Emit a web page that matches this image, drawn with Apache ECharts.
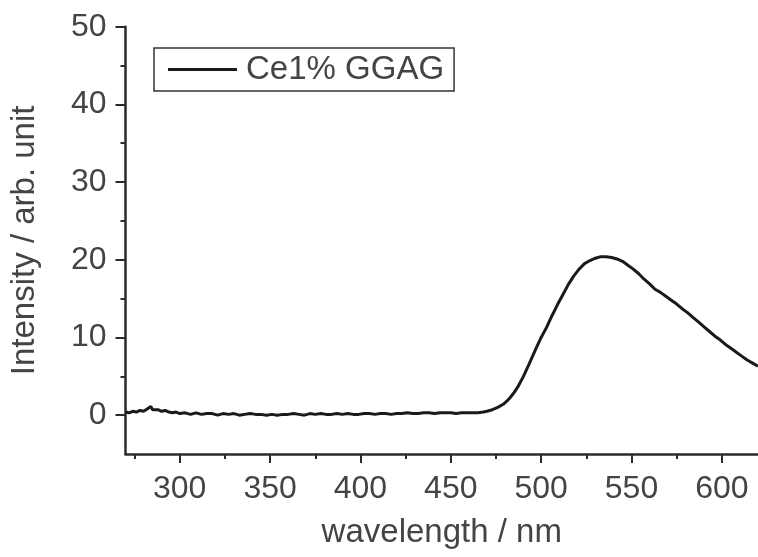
<!DOCTYPE html>
<html>
<head>
<meta charset="utf-8">
<script src="https://cdn.jsdelivr.net/npm/echarts@6/dist/echarts.min.js"></script>
<style>
html,body{margin:0;padding:0;background:#fff;}
#c{width:758px;height:557px;}
</style>
</head>
<body>
<div id="c"></div>
<script>
const seriesName = 'Ce1% GGAG';
const wavelength = [270,272,274,276,278,280,282,283,284,285,286,288,290,292,294,296,298,300,303,306,309,312,315,318,321,324,327,330,333,336,339,342,345,348,351,354,357,360,363,366,369,372,375,378,381,384,387,390,393,396,399,402,405,408,411,414,417,420,423,426,429,432,435,438,441,444,447,450,453,456,459,462,465,468,470,473,476,479,481,483,485,487,490,493,497,500,503,506,509,512,515,518,521,524,527,530,533,536,539,542,545,548,551,554,557,560,563,566,569,572,575,578,581,584,587,590,593,596,599,602,605,608,611,614,617,620];
const intensity = [0.4,0.3,0.5,0.4,0.6,0.5,0.8,0.6,1.1,0.7,0.6,0.7,0.5,0.6,0.4,0.3,0.4,0.2,0.3,0.1,0.3,0.1,0.2,0.2,0.0,0.2,0.1,0.2,0.0,0.1,0.2,0.1,0.1,0.0,0.1,0.0,0.1,0.1,0.2,0.1,0.0,0.2,0.1,0.2,0.1,0.1,0.2,0.1,0.2,0.1,0.1,0.2,0.2,0.1,0.2,0.2,0.1,0.2,0.2,0.3,0.2,0.2,0.3,0.3,0.2,0.3,0.3,0.3,0.2,0.3,0.3,0.3,0.3,0.4,0.5,0.7,1.0,1.4,1.8,2.3,2.9,3.6,4.9,6.4,8.5,10.0,11.3,12.8,14.2,15.5,16.8,17.9,18.8,19.5,19.9,20.2,20.4,20.4,20.3,20.1,19.8,19.3,18.8,18.2,17.5,16.9,16.2,15.8,15.3,14.8,14.3,13.7,13.2,12.6,12.0,11.4,10.8,10.2,9.7,9.1,8.6,8.1,7.6,7.1,6.7,6.3];
const xMajorTicks = [300,350,400,450,500,550,600];
const xMinorTicks = [275,325,375,425,475,525,575];
const yMajorTicks = [0,10,20,30,40,50];
const yMinorTicks = [5,15,25,35,45];

const FONT = 'Liberation Sans';
const TXT = '#444';
const AX = '#2a2a2a';

const chart = echarts.init(document.getElementById('c'), null, {renderer:'canvas'});
chart.setOption({
  animation:false,
  backgroundColor:'#fff',
  grid:{left:125.5, top:26.7, bottom:103, right:-6.8, containLabel:false},
  legend:{
    left:154, top:48,
    padding:[5,10,5,14],
    borderColor:'#333', borderWidth:1.5,
    itemWidth:69, itemHeight:3, icon:'rect',
    itemStyle:{color:'#1a1a1a'},
    textStyle:{fontFamily:FONT, fontSize:33, color:TXT, padding:[0,0,0,4]},
    data:[seriesName]
  },
  xAxis:[{
    type:'value', min:270, max:620,
    name:'wavelength / nm', nameLocation:'middle', nameGap:62,
    nameTextStyle:{fontFamily:FONT, fontSize:33, color:TXT},
    axisLine:{onZero:false, lineStyle:{color:AX, width:2.5}},
    axisTick:{show:true, length:9, lineStyle:{color:AX, width:2}, customValues:xMajorTicks},
    axisLabel:{fontFamily:FONT, fontSize:32, color:TXT, margin:19, customValues:xMajorTicks},
    splitLine:{show:false}
  },{
    type:'value', min:270, max:620, position:'bottom',
    axisLine:{show:false, onZero:false},
    axisTick:{show:true, length:5, lineStyle:{color:AX, width:2}, customValues:xMinorTicks},
    axisLabel:{show:false},
    splitLine:{show:false}
  }],
  yAxis:[{
    type:'value', min:-5, max:50,
    name:'Intensity / arb. unit', nameLocation:'middle', nameGap:84,
    nameTextStyle:{fontFamily:FONT, fontSize:33, color:TXT},
    axisLine:{onZero:false, lineStyle:{color:AX, width:2.5}},
    axisTick:{show:true, length:10, lineStyle:{color:AX, width:2}, customValues:yMajorTicks},
    axisLabel:{fontFamily:FONT, fontSize:32, color:TXT, margin:19, customValues:yMajorTicks},
    splitLine:{show:false}
  },{
    type:'value', min:-5, max:50, position:'left',
    axisLine:{show:false, onZero:false},
    axisTick:{show:true, length:5, lineStyle:{color:AX, width:2}, customValues:yMinorTicks},
    axisLabel:{show:false},
    splitLine:{show:false}
  }],
  series:[{
    name:seriesName, type:'line', xAxisIndex:0, yAxisIndex:0,
    symbol:'none', smooth:false,
    lineStyle:{color:'#1a1a1a', width:3},
    itemStyle:{color:'#1a1a1a'},
    data: wavelength.map((w,i)=>[w,intensity[i]])
  }]
});
</script>
</body>
</html>
